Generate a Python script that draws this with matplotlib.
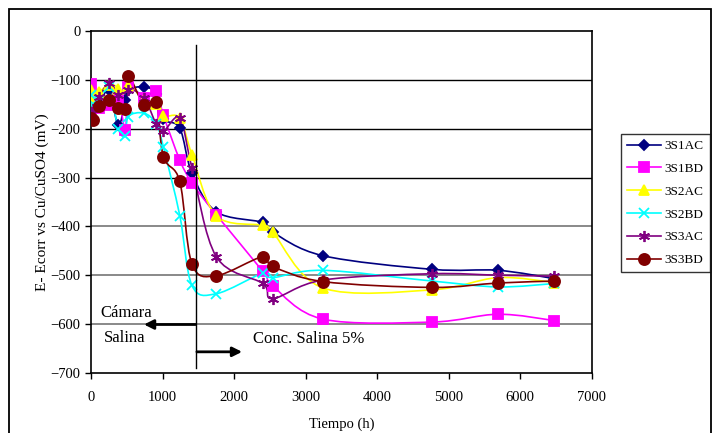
import matplotlib
matplotlib.use('Agg')
import matplotlib.pyplot as plt
import numpy as np
from matplotlib.path import Path
from matplotlib.patches import PathPatch, Rectangle

plt.rcParams['font.family'] = ['Liberation Serif', 'DejaVu Serif']

t = [0, 30, 110, 250, 380, 480, 520, 740, 910, 1010, 1240, 1410,
     1750, 2400, 2540, 3240, 4770, 5690, 6480]

s1ac = [-125, -140, -150, -120, -193, -140, -120, -114, -128, -180, -199, -291,
        -370, -392, -412, -460, -488, -490, -507]
s1bd = [-108, -130, -157, -151, -138, -203, -115, -136, -122, -172, -264, -311,
        -376, -492, -522, -590, -596, -580, -593]
s2ac = [-120, -140, -125, -110, -118, -160, -112, -140, -150, -174, -178, -253,
        -378, -398, -412, -526, -530, -505, -515]
s2bd = [-130, -150, -140, -115, -200, -215, -175, -168, -190, -237, -378, -521,
        -538, -496, -505, -490, -512, -524, -517]
s3ac = [-170, -160, -135, -107, -130, -160, -120, -137, -190, -205, -178, -280,
        -462, -517, -548, -510, -497, -500, -502]
s3bd = [-178, -183, -153, -140, -157, -160, -92, -152, -145, -257, -308, -477,
        -501, -462, -482, -513, -525, -516, -512]

names = ['3S1AC', '3S1BD', '3S2AC', '3S2BD', '3S3AC', '3S3BD']
series = [s1ac, s1bd, s2ac, s2bd, s3ac, s3bd]
colors = ['#000080', '#FF00FF', '#FFFF00', '#00FFFF', '#800080', '#800000']
markers = ['D', 's', '^', 'x', (6, 2, 0), 'o']
msizes = [5, 7, 7, 7, 8, 8]


def smooth_path(x, y):
    # bezier through the points (Excel style smoothed line)
    p = np.column_stack([x, y]).astype(float)
    n = len(p)
    verts = [p[0]]
    codes = [Path.MOVETO]
    for i in range(n - 1):
        p0 = p[i - 1] if i > 0 else p[i]
        p3 = p[i + 2] if i + 2 < n else p[i + 1]
        c1 = p[i] + (p[i + 1] - p0) / 6
        c2 = p[i + 1] - (p3 - p[i]) / 6
        verts += [c1, c2, p[i + 1]]
        codes += [Path.CURVE4] * 3
    return Path(verts, codes)


fig = plt.figure(figsize=(7.12, 4.33), dpi=100)
ax = fig.add_axes([0.128, 0.139, 0.703, 0.789])

for yv in [-100, -200, -300]:
    ax.axhline(yv, color='black', lw=1.0, zorder=1)
for yv in [-400, -500, -600]:
    ax.axhline(yv, color='#808080', lw=1.3, zorder=1)

handles = []
for name, ys, c, m, ms in zip(names, series, colors, markers, msizes):
    ax.add_patch(PathPatch(smooth_path(t, ys), facecolor='none',
                           edgecolor=c, lw=1.2, zorder=3))
    ax.plot(t, ys, linestyle='none', marker=m, color=c, ms=ms,
            mec=c, mew=1.3, zorder=4)
    handles.append(plt.Line2D([], [], color=c, lw=1.2, marker=m, ms=ms,
                              mew=1.3, label=name))

ax.plot([1460, 1460], [-28, -690], color='black', lw=1.0, zorder=5,
        clip_on=False)
ax.annotate('', xy=(700, -601), xytext=(1500, -601),
            arrowprops=dict(arrowstyle='-|>', color='black', lw=2,
                            mutation_scale=14), zorder=5)
ax.annotate('', xy=(2150, -657), xytext=(1440, -657),
            arrowprops=dict(arrowstyle='-|>', color='black', lw=2,
                            mutation_scale=14), zorder=5)
ax.text(125, -577, 'Cámara', fontsize=12, va='center', ha='left')
ax.text(175, -628, 'Salina', fontsize=12, va='center', ha='left')
ax.text(2270, -630, 'Conc. Salina 5%', fontsize=12, va='center', ha='left')

ax.set_xlim(0, 7000)
ax.set_ylim(-700, 0)
ax.set_xticks(range(0, 7001, 1000))
ax.set_yticks(range(-700, 1, 100))
ax.tick_params(direction='out', length=4, width=1, labelsize=10.5,
               color='black')
ax.tick_params(axis='x', pad=9)
for sp in ax.spines.values():
    sp.set_color('black')
    sp.set_linewidth(1.2)
ax.set_xlabel('Tiempo (h)', fontsize=10.5, labelpad=10)
ax.set_ylabel('E- Ecorr vs Cu/CuSO4 (mV)', fontsize=11, labelpad=1)

leg = fig.legend(handles=handles, loc='upper left',
                 bbox_to_anchor=(621 / 712, 1 - 134 / 433), fontsize=9.5,
                 frameon=True, fancybox=False, edgecolor='black',
                 handlelength=2.6, borderpad=0.45, labelspacing=0.8,
                 handletextpad=0.25, borderaxespad=0)
leg.get_frame().set_linewidth(1.0)

fig.patches.append(Rectangle((9 / 712, -0.05), 702 / 712, 1.05 - 9 / 433,
                             transform=fig.transFigure, fill=False,
                             edgecolor='black', lw=1.3))

fig.savefig('out.png', dpi=100)
